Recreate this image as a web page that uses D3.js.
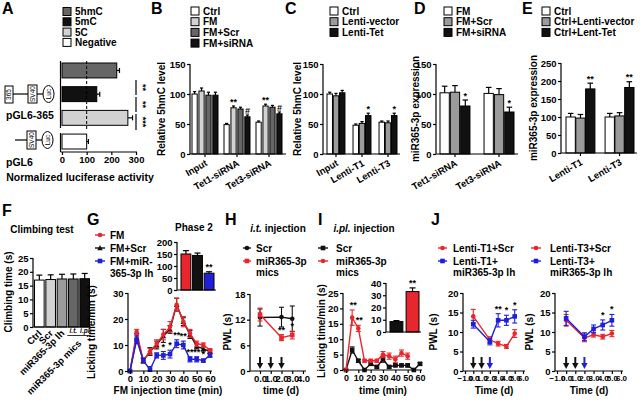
<!DOCTYPE html>
<html>
<head>
<meta charset="utf-8">
<script src="https://cdn.jsdelivr.net/npm/d3@7/dist/d3.min.js"></script>
<style>
html,body{margin:0;padding:0;background:#fff;}
svg{display:block;}
</style>
</head>
<body>
<svg id="chart" width="640" height="401"></svg>
<script>
// ================= DATA =================
// Panel A
const aConstructs = ["5hmC", "5mC", "5C", "Negative"];
const aValues = [222, 141, 267, 100];
const aErrors = [11, 12, 19, 7];
const aTicks = [0, 100, 200, 300];
const aSig = ["**", "**", "***"];
// Panel B
const bGroups = ["Input", "Tet1-siRNA", "Tet3-siRNA"];
const bSeries = ["Ctrl", "FM", "FM+Scr", "FM+siRNA"];
const bValues = [[100, 105, 98, 98], [49, 77, 75, 62], [53, 80, 78, 67]];
const bErrors = [[4, 5, 5, 5], [2, 3, 3, 3], [2, 3, 3, 3]];
const bMarks = [["", "", "", ""], ["", "**", "", "#"], ["", "**", "", "#"]];
const bTicks = [0, 50, 100, 150];
// Panel C
const cGroups = ["Input", "Lenti-T1", "Lenti-T3"];
const cSeries = ["Ctrl", "Lenti-vector", "Lenti-Tet"];
const cValues = [[100, 97, 102], [48, 51, 64], [53, 52, 64]];
const cErrors = [[3, 4, 4], [2, 3, 4], [2, 3, 4]];
const cMarks = [["", "", ""], ["", "", "*"], ["", "", "*"]];
const cTicks = [0, 50, 100, 150];
// Panel D
const dGroups = ["Tet1-siRNA", "Tet3-siRNA"];
const dSeries = ["FM", "FM+Scr", "FM+siRNA"];
const dValues = [[102, 103, 80], [101, 99, 70]];
const dErrors = [[11, 11, 10], [10, 10, 8]];
const dMarks = [["", "", "*"], ["", "", "*"]];
const dTicks = [0, 50, 100, 150];
// Panel E
const eGroups = ["Lenti-T1", "Lenti-T3"];
const eSeries = ["Ctrl", "Ctrl+Lenti-vector", "Ctrl+Lent-Tet"];
const eValues = [[100, 97, 178], [100, 103, 182]];
const eErrors = [[10, 10, 16], [10, 9, 16]];
const eMarks = [["", "", "**"], ["", "", "**"]];
const eTicks = [0, 50, 100, 150, 200, 250];
// Panel F
const fLabels = ["Ctrl", "Scr", "miR365-3p lh", "i.t.", "i.pl."];
const fValues = [17, 17.2, 17.4, 17.4, 17.5];
const fErrors = [1.8, 1.7, 1.7, 1.8, 1.9];
const fTicks = [0, 5, 10, 15, 20, 25];
// Panel G
const gTimes = [0, 5, 10, 15, 20, 25, 30, 35, 40, 45, 50, 55, 60];
const gFM = [0, 15, 4, 7.5, 10.5, 14, 17, 25.5, 19, 14.5, 10.5, 10, 8];
const gFMErr = [0, 1, 1, 1.2, 1.5, 2, 2, 2.5, 2, 1.5, 1, 0.8, 0.6];
const gScr = [0, 13, 4, 7.5, 10, 13.5, 16, 25.5, 19, 14, 9.5, 8.5, 7.5];
const gScrErr = [0, 1.5, 1, 1.5, 1.5, 2.5, 1.5, 2.5, 1.5, 1.5, 1, 0.8, 0.6];
const gLh = [0, 12, 4, 0.5, 6, 6, 6.5, 10.5, 10, 4.5, 4.5, 4, 6];
const gLhErr = [0, 1.5, 0.8, 1.2, 1, 1.5, 1.5, 1.5, 1.5, 1, 1, 0.5, 0.7];
const gStars = ["", "", "", "", "", "*", "*", "**", "**", "**", "**", "*", ""];
const gYTicks = [0, 10, 20, 30];
const gXTicks = [0, 10, 20, 30, 40, 50, 60];
const gPhaseGroups = ["FM", "FM+Scr", "FM+miR-365-3p lh"];
const gPhase = [150, 144, 70];
const gPhaseErr = [14, 10, 6];
const gPhaseMarks = ["", "", "**"];
const gPhaseTicks = [0, 50, 100, 150, 200];
// Panel H
const hDays = [0, 2, 3];
const hScr = [12.5, 12.6, 12.2];
const hScrErr = [2, 2.3, 3];
const hMics = [13.2, 7.8, 8.4];
const hMicsErr = [1.5, 0.7, 0.9];
const hStars = ["", "**", "*"];
const hArrowDays = [0, 1, 2];
const hYTicks = [0, 6, 12, 18];
const hXTicks = [0, 1, 2, 3, 4];
// Panel I
const iTimes = [0, 5, 10, 15, 20, 25, 30, 35, 40, 45, 50, 55, 60];
const iScr = [0, 6.5, 3, 0, 2, 1, 3.5, 1, 1.5, 1.5, 1.5, 0, 2];
const iScrErr = [0, 1, 0.5, 0, 0.5, 0.4, 1, 0.4, 0.4, 0.4, 0.5, 0, 0.4];
const iMicsTimes = [0, 5, 10, 15, 20, 25, 30, 35, 40, 45, 50];
const iMics = [0, 17, 13.5, 3, 3, 3, 5, 4.5, 3.5, 5.5, 4.5];
const iMicsErr = [0, 2.5, 1, 0.5, 0.5, 0.5, 1, 1, 1, 1, 1];
const iStars = ["", "**", "**", "", "", "", "", "", "", "", ""];
const iYTicks = [0, 5, 10, 15, 20, 25];
const iXTicks = [0, 10, 20, 30, 40, 50, 60];
const iPhaseGroups = ["Scr", "miR365-3p mics"];
const iPhase = [8.5, 33];
const iPhaseErr = [0.8, 3];
const iPhaseMarks = ["", "**"];
const iPhaseTicks = [0, 10, 20, 30, 40];
// Panel J
const jDays = [0, 2, 3, 4, 5];
const jT1Scr = [14, 8, 7, 6.3, 9.6];
const jT1ScrErr = [1.8, 0.8, 0.6, 0.5, 1];
const jT1Lh = [12, 7.5, 13, 13, 14];
const jT1LhErr = [1, 0.8, 1.7, 1.3, 1.7];
const jT1Stars = ["", "", "**", "*", "*"];
const jT3Scr = [13, 8.5, 9.3, 8.8, 9.6];
const jT3ScrErr = [1.5, 1, 0.6, 0.6, 0.8];
const jT3Lh = [13.5, 8.8, 10.8, 11.8, 13];
const jT3LhErr = [1.8, 1, 1, 1.3, 1.5];
const jT3Stars = ["", "", "", "*", "*"];
const jArrowDays = [0, 1, 2];
const jYTicks = [0, 5, 10, 15, 20];
const jXTicks = [-1, 0, 1, 2, 3, 4, 5, 6];

// ================= STYLE =================
const FONT = "'Liberation Sans', Arial, Helvetica, sans-serif";
const W = "#ffffff", LG = "#d2d2d2", MG = "#9b9b9b", DG = "#666666", BK = "#111111";
const RED = "#e8262d", BLUE = "#1f1fd8";

const svg = d3.select("#chart");
svg.append("rect").attr("width", 640).attr("height", 401).attr("fill", "#fff");

function txt(g, x, y, s, size, anchor, opts) {
  opts = opts || {};
  const t = g.append("text").attr("x", x).attr("y", y)
    .attr("font-size", size).attr("font-family", FONT).attr("font-weight", "bold")
    .attr("text-anchor", anchor || "start").attr("fill", opts.fill || "#000").text(s);
  if (opts.rotate != null) t.attr("transform", `rotate(${opts.rotate},${x},${y})`);
  if (opts.italic) t.attr("font-style", "italic");
  return t;
}
function line(g, x1, y1, x2, y2, color, w) {
  return g.append("line").attr("x1", x1).attr("y1", y1).attr("x2", x2).attr("y2", y2)
    .attr("stroke", color || "#000").attr("stroke-width", w || 1.2);
}
function styleAxis(sel, fs) {
  sel.attr("font-family", FONT).attr("font-size", fs || 9.5).attr("font-weight", "bold");
  sel.selectAll("line").attr("stroke", "#000").attr("stroke-width", 1.2);
  sel.selectAll("text").attr("fill", "#000");
  sel.select(".domain").remove();
}
function yAxis(g, scale, x, ticks, fs) {
  const a = g.append("g").attr("transform", `translate(${x},0)`)
    .call(d3.axisLeft(scale).tickValues(ticks).tickSize(3).tickPadding(1.5).tickSizeOuter(0));
  styleAxis(a, fs);
  const r = scale.range();
  line(g, x, r[0], x, r[1]);
  return a;
}
function xAxis(g, scale, y, ticks, x1, x2, fs) {
  const a = g.append("g").attr("transform", `translate(0,${y})`)
    .call(d3.axisBottom(scale).tickValues(ticks).tickSize(3).tickPadding(1.5).tickSizeOuter(0));
  styleAxis(a, fs);
  line(g, x1, y, x2, y);
  return a;
}
function squareLegend(g, x, ys, labels, colors) {
  labels.forEach((l, i) => {
    g.append("rect").attr("x", x).attr("y", ys[i] - 4).attr("width", 8).attr("height", 8)
      .attr("fill", colors[i]).attr("stroke", "#000").attr("stroke-width", 1);
    txt(g, x + 12, ys[i] + 3.6, l, 10);
  });
}
function marker(g, type, cx, cy, color, s) {
  s = s || 2.3;
  if (type === "circle") g.append("circle").attr("cx", cx).attr("cy", cy).attr("r", s).attr("fill", color);
  else if (type === "square") g.append("rect").attr("x", cx - s).attr("y", cy - s).attr("width", 2 * s).attr("height", 2 * s).attr("fill", color);
  else g.append("path").attr("d", `M${cx},${cy - s * 1.3}L${cx + s * 1.2},${cy + s}L${cx - s * 1.2},${cy + s}Z`).attr("fill", color);
}
function series(g, x, y, xs, vals, errs, color, type) {
  g.append("path").datum(xs.map((t, i) => [t, vals[i]]))
    .attr("d", d3.line().x(d => x(d[0])).y(d => y(d[1])))
    .attr("fill", "none").attr("stroke", color).attr("stroke-width", 1.4);
  xs.forEach((t, i) => {
    const cx = x(t), v = vals[i], e = errs[i];
    if (e > 0) {
      line(g, cx, y(Math.max(0, v - e)), cx, y(v + e), color, 1.1);
      line(g, cx - 2.5, y(v + e), cx + 2.5, y(v + e), color, 1.1);
      if (v - e > 0) line(g, cx - 2.5, y(v - e), cx + 2.5, y(v - e), color, 1.1);
    }
    marker(g, type, cx, y(v), color);
  });
}
function lineLegend(g, x1, x2, y, color, type, label, tx) {
  line(g, x1, y, x2, y, color, 1.4);
  marker(g, type, (x1 + x2) / 2, y, color);
  if (label) txt(g, tx, y + 3.6, label, 10);
}
function arrow(g, cx, y1, y2, color) {
  line(g, cx, y1, cx, y2 - 5, color, 2);
  g.append("path").attr("d", `M${cx - 3.2},${y2 - 6}L${cx + 3.2},${y2 - 6}L${cx},${y2}Z`).attr("fill", color);
}
function barPanel(p) {
  const g = svg.append("g");
  const y = d3.scaleLinear().domain([0, p.max]).range([p.zeroY, p.topY]);
  const x0 = d3.scaleBand().domain(p.groups).range(p.band).paddingInner(p.padG);
  const x1 = d3.scaleBand().domain(p.series).range([0, x0.bandwidth()]).paddingInner(p.padS);
  p.groups.forEach((grp, gi) => {
    p.series.forEach((s, si) => {
      const v = p.values[gi][si], e = p.errors[gi][si];
      const bx = x0(grp) + x1(s), bw = x1.bandwidth(), cx = bx + bw / 2, cw = Math.max(3, bw * 0.6);
      line(g, cx, y(v), cx, y(v + e));
      line(g, cx - cw / 2, y(v + e), cx + cw / 2, y(v + e));
      g.append("rect").attr("x", bx).attr("y", y(v)).attr("width", bw).attr("height", y(0) - y(v))
        .attr("fill", p.colors[si]).attr("stroke", "#000").attr("stroke-width", 1);
      const m = p.marks[gi][si];
      if (m) txt(g, cx, y(v + e) - 1.5, m, 9, "middle");
    });
    const gc = x0(grp) + x0.bandwidth() / 2;
    line(g, gc, p.zeroY, gc, p.zeroY + 3);
    txt(g, gc + 3, p.zeroY + 11, grp, 9.5, "end", { rotate: -30 });
  });
  yAxis(g, y, p.axisX, p.ticks, 9.5);
  line(g, p.axisX, p.zeroY, p.axisEnd, p.zeroY);
  txt(g, p.ylabelX, (p.zeroY + p.topY) / 2, p.ylabel, 10, "middle", { rotate: -90 });
  return g;
}

// ================= PANEL A =================
(function () {
  const g = svg.append("g");
  txt(g, 2, 14, "A", 16);
  squareLegend(g, 63, [11.5, 21.8, 32.1, 42.4], aConstructs, [DG, BK, LG, W]);
  const x = d3.scaleLinear().domain([0, 300]).range([62, 136]);
  const y = d3.scaleBand().domain(aConstructs).range([63, 149]).paddingInner(0.37);
  const cols = [DG, BK, LG, W];
  aConstructs.forEach((c, i) => {
    const v = aValues[i], e = aErrors[i], cy = y(c) + y.bandwidth() / 2;
    line(g, x(v), cy, x(v + e), cy);
    line(g, x(v + e), cy - 2.5, x(v + e), cy + 2.5);
    g.append("rect").attr("x", x(0)).attr("y", y(c)).attr("width", x(v) - x(0)).attr("height", y.bandwidth())
      .attr("fill", cols[i]).attr("stroke", "#000").attr("stroke-width", 1);
  });
  line(g, x(100), 61, x(100), 129, "#000", 1).attr("stroke-dasharray", "3,2");
  line(g, 60.5, 61, 60.5, 128);
  line(g, 60.5, 133, 60.5, 152);
  xAxis(g, x, 152, aTicks, 60.5, 137, 9.5);
  txt(g, 80, 181, "Normalized luciferase activity", 10.5, "middle");
  const br = [[80, 95], [97, 112], [114, 130]];
  br.forEach((b, i) => {
    line(g, 136, b[0], 136, b[1]);
    txt(g, 140, (b[0] + b[1]) / 2, aSig[i], 9, "middle", { rotate: 90 });
  });
  function box(x0, y0, w, h, label) {
    g.append("rect").attr("x", x0).attr("y", y0).attr("width", w).attr("height", h)
      .attr("fill", "#fff").attr("stroke", "#000").attr("stroke-width", 1);
    g.append("text").attr("x", x0 + w / 2 + 2.2).attr("y", y0 + h / 2).attr("font-size", 6.5)
      .attr("font-family", FONT).attr("text-anchor", "middle")
      .attr("transform", `rotate(-90,${x0 + w / 2 + 2.2},${y0 + h / 2})`).text(label);
  }
  function luc(cx, cy) {
    g.append("ellipse").attr("cx", cx).attr("cy", cy).attr("rx", 5.5).attr("ry", 8.5)
      .attr("fill", "#fff").attr("stroke", "#000").attr("stroke-width", 1);
    g.append("text").attr("x", cx + 2.2).attr("y", cy).attr("font-size", 6.5).attr("font-family", FONT)
      .attr("text-anchor", "middle").attr("transform", `rotate(-90,${cx + 2.2},${cy})`).text("Luc");
  }
  line(g, 13, 94, 28, 94, "#000", 1.2);
  line(g, 37, 94, 43, 94, "#000", 1.2);
  box(5, 86, 8, 17, "365");
  box(28, 85, 9, 18, "SV40");
  luc(48.5, 94);
  txt(g, 6, 119, "pGL6-365", 10.5);
  line(g, 15, 140, 27, 140, "#000", 1.2);
  line(g, 36, 140, 42, 140, "#000", 1.2);
  box(27, 131, 9, 18, "SV40");
  luc(47.5, 140);
  txt(g, 6, 166, "pGL6", 10.5);
})();

// ================= PANELS B–E =================
(function () {
  const g = svg.append("g");
  txt(g, 151, 14, "B", 16);
  squareLegend(g, 191, [11, 21.7, 32.4, 43.1], bSeries, [W, LG, DG, BK]);
  txt(g, 285, 14, "C", 16);
  squareLegend(g, 330, [11, 21.7, 32.4], cSeries, [W, MG, BK]);
  txt(g, 414, 14, "D", 16);
  squareLegend(g, 444, [11, 21.7, 32.4], dSeries, [W, MG, BK]);
  txt(g, 522, 14, "E", 16);
  squareLegend(g, 542, [11, 21.7, 32.4], eSeries, [W, MG, BK]);
})();
barPanel({ groups: bGroups, series: bSeries, values: bValues, errors: bErrors, marks: bMarks,
  colors: [W, LG, DG, BK], max: 150, ticks: bTicks, zeroY: 154, topY: 64, axisX: 190, axisEnd: 286,
  band: [192, 282], padG: 0.1875, padS: 0.25, ylabel: "Relative 5hmC level", ylabelX: 165 });
barPanel({ groups: cGroups, series: cSeries, values: cValues, errors: cErrors, marks: cMarks,
  colors: [W, MG, BK], max: 150, ticks: cTicks, zeroY: 154, topY: 64, axisX: 323, axisEnd: 400,
  band: [327, 397], padG: 0.31, padS: 0.12, ylabel: "Relative 5hmC level", ylabelX: 301 });
barPanel({ groups: dGroups, series: dSeries, values: dValues, errors: dErrors, marks: dMarks,
  colors: [W, MG, BK], max: 150, ticks: dTicks, zeroY: 154, topY: 64, axisX: 436, axisEnd: 518,
  band: [440, 514], padG: 0.32, padS: 0.1, ylabel: "miR365-3p expression", ylabelX: 419 });
barPanel({ groups: eGroups, series: eSeries, values: eValues, errors: eErrors, marks: eMarks,
  colors: [W, MG, BK], max: 250, ticks: eTicks, zeroY: 153, topY: 63, axisX: 561, axisEnd: 637,
  band: [566, 634], padG: 0.26, padS: 0.05, ylabel: "miR365-3p expression", ylabelX: 537 });

// ================= PANEL F =================
(function () {
  const g = svg.append("g");
  txt(g, 2, 216, "F", 16);
  txt(g, 42, 233, "Climbing test", 10, "middle");
  const y = d3.scaleLinear().domain([0, 25]).range([327, 258]);
  const x = d3.scaleBand().domain(fLabels).range([34.5, 89.5]).paddingInner(0.15);
  const cols = [W, LG, MG, DG, BK];
  fLabels.forEach((l, i) => {
    const v = fValues[i], e = fErrors[i], bx = x(l), bw = x.bandwidth(), cx = bx + bw / 2;
    line(g, cx, y(v), cx, y(v + e));
    line(g, cx - 3, y(v + e), cx + 3, y(v + e));
    g.append("rect").attr("x", bx).attr("y", y(v)).attr("width", bw).attr("height", y(0) - y(v))
      .attr("fill", cols[i]).attr("stroke", "#000").attr("stroke-width", 1);
  });
  yAxis(g, y, 33, fTicks, 9.5);
  line(g, 33, 327, 91, 327);
  txt(g, 12, 292, "Climbing time (s)", 10, "middle", { rotate: -90 });
  for (let i = 0; i < 3; i++) {
    const cx = x(fLabels[i]) + x.bandwidth() / 2;
    txt(g, cx + 3, 334, fLabels[i], 9.5, "end", { rotate: -45 });
  }
  const c4 = x(fLabels[3]) + x.bandwidth() / 2, c5 = x(fLabels[4]) + x.bandwidth() / 2;
  txt(g, c4, 333, fLabels[3], 6.5, "middle", { italic: true });
  txt(g, c5 + 1, 333, fLabels[4], 6.5, "middle", { italic: true });
  line(g, c4 - 6, 335.5, c5 + 6, 335.5, "#000", 0.8);
  txt(g, 82, 344, "miR365-3p mics", 9.5, "end", { rotate: -45 });
})();

// ================= PANEL G =================
(function () {
  const g = svg.append("g");
  txt(g, 87, 225, "G", 16);
  lineLegend(g, 95, 105, 235, RED, "circle", "FM", 110);
  lineLegend(g, 95, 105, 248, BK, "triangle", "FM+Scr", 110);
  lineLegend(g, 95, 105, 261, BLUE, "square", "FM+miR-", 110);
  txt(g, 110, 277, "365-3p lh", 10);
  txt(g, 194, 231, "Phase 2", 10, "middle");
  const yi = d3.scaleLinear().domain([0, 200]).range([290, 242]);
  const xi = d3.scaleBand().domain(gPhaseGroups).range([181, 214]).paddingInner(0.15);
  const icol = [RED, BK, BLUE];
  gPhaseGroups.forEach((l, i) => {
    const v = gPhase[i], e = gPhaseErr[i], bx = xi(l), bw = xi.bandwidth(), cx = bx + bw / 2;
    line(g, cx, yi(v), cx, yi(v + e));
    line(g, cx - 3, yi(v + e), cx + 3, yi(v + e));
    g.append("rect").attr("x", bx).attr("y", yi(v)).attr("width", bw).attr("height", yi(0) - yi(v))
      .attr("fill", icol[i]).attr("stroke", "#000").attr("stroke-width", 1);
    if (gPhaseMarks[i]) txt(g, cx, yi(v + e) - 1.5, gPhaseMarks[i], 9, "middle");
  });
  yAxis(g, yi, 177, gPhaseTicks, 9.5);
  line(g, 177, 290, 216, 290);
  const y = d3.scaleLinear().domain([0, 30]).range([371, 293]);
  const x = d3.scaleLinear().domain([0, 60]).range([130, 210]);
  series(g, x, y, gTimes, gScr, gScrErr, BK, "triangle");
  series(g, x, y, gTimes, gFM, gFMErr, RED, "circle");
  series(g, x, y, gTimes, gLh, gLhErr, BLUE, "square");
  gTimes.forEach((t, i) => {
    if (gStars[i]) txt(g, x(t), y(gLh[i] + gLhErr[i]) - 2, gStars[i], 9, "middle");
  });
  yAxis(g, y, 128, gYTicks, 9.5);
  xAxis(g, x, 371, gXTicks, 128, 212, 9.5);
  txt(g, 95, 332, "Licking time/min (s)", 10, "middle", { rotate: -90 });
  txt(g, 168, 394, "FM injection time (min)", 10, "middle");
})();

// ================= PANEL H =================
(function () {
  const g = svg.append("g");
  txt(g, 225, 225, "H", 16);
  const t = txt(g, 278, 232, "", 10, "middle");
  t.append("tspan").attr("font-style", "italic").text("i.t.");
  t.append("tspan").text(" injection");
  lineLegend(g, 243, 251, 248, BK, "circle", "Scr", 256);
  lineLegend(g, 243, 251, 261, RED, "square", "miR365-3p", 256);
  txt(g, 256, 276, "mics", 10);
  const y = d3.scaleLinear().domain([0, 18]).range([371, 294]);
  const x = d3.scaleLinear().domain([0, 4]).range([260, 303]);
  series(g, x, y, hDays, hScr, hScrErr, BK, "circle");
  series(g, x, y, hDays, hMics, hMicsErr, RED, "square");
  hDays.forEach((d, i) => {
    if (hStars[i]) txt(g, x(d), y(hMics[i] + hMicsErr[i]) - 2, hStars[i], 9, "middle");
  });
  hArrowDays.forEach(d => arrow(g, x(d), 357, 369, BK));
  yAxis(g, y, 250, hYTicks, 9.5);
  xAxis(g, x, 371, hXTicks, 250, 306, 9.5);
  txt(g, 231, 332, "PWL (s)", 10, "middle", { rotate: -90 });
  txt(g, 281, 394, "time (d)", 10, "middle");
})();

// ================= PANEL I =================
(function () {
  const g = svg.append("g");
  txt(g, 318, 225, "I", 16);
  const t = txt(g, 364, 232, "", 10, "middle");
  t.append("tspan").attr("font-style", "italic").text("i.pl.");
  t.append("tspan").text(" injection");
  lineLegend(g, 318, 328, 248, BK, "square", "Scr", 336);
  lineLegend(g, 318, 328, 261, RED, "circle", "miR365-3p", 336);
  txt(g, 336, 276, "mics", 10);
  const yi = d3.scaleLinear().domain([0, 40]).range([332, 283]);
  const xi = d3.scaleBand().domain(iPhaseGroups).range([390, 419]).paddingInner(0.2);
  const icol = [BK, RED];
  iPhaseGroups.forEach((l, i) => {
    const v = iPhase[i], e = iPhaseErr[i], bx = xi(l), bw = xi.bandwidth(), cx = bx + bw / 2;
    line(g, cx, yi(v), cx, yi(v + e));
    line(g, cx - 3, yi(v + e), cx + 3, yi(v + e));
    g.append("rect").attr("x", bx).attr("y", yi(v)).attr("width", bw).attr("height", yi(0) - yi(v))
      .attr("fill", icol[i]).attr("stroke", "#000").attr("stroke-width", 1);
    if (iPhaseMarks[i]) txt(g, cx, yi(v + e) - 1.5, iPhaseMarks[i], 9, "middle");
  });
  yAxis(g, yi, 386, iPhaseTicks, 9.5);
  line(g, 386, 332, 421, 332);
  const y = d3.scaleLinear().domain([0, 25]).range([370, 293]);
  const x = d3.scaleLinear().domain([0, 60]).range([346, 420]);
  series(g, x, y, iTimes, iScr, iScrErr, BK, "square");
  series(g, x, y, iMicsTimes, iMics, iMicsErr, RED, "circle");
  iMicsTimes.forEach((tt, i) => {
    if (iStars[i]) txt(g, x(tt) + 1, y(iMics[i] + iMicsErr[i]) - 2, iStars[i], 9, "middle");
  });
  yAxis(g, y, 343, iYTicks, 9.5);
  xAxis(g, x, 370, iXTicks, 343, 422, 9);
  txt(g, 325, 331, "Licking time/min (s)", 10, "middle", { rotate: -90 });
  txt(g, 383, 394, "time (min)", 10, "middle");
})();

// ================= PANEL J =================
(function () {
  const g = svg.append("g");
  txt(g, 431, 225, "J", 16);
  lineLegend(g, 438, 447, 248, RED, "circle", "Lenti-T1+Scr", 453);
  lineLegend(g, 438, 447, 261, BLUE, "square", "Lenti-T1+", 453);
  txt(g, 453, 276, "miR365-3p lh", 10);
  lineLegend(g, 531, 541, 248, RED, "circle", "Lenti-T3+Scr", 550);
  lineLegend(g, 531, 541, 261, BLUE, "square", "Lenti-T3+", 550);
  txt(g, 550, 276, "miR365-3p lh", 10);
  function sub(axisX, xr, scr, scrErr, lh, lhErr, stars, ylabX) {
    const y = d3.scaleLinear().domain([0, 20]).range([371, 293]);
    const x = d3.scaleLinear().domain([-1, 6]).range(xr);
    series(g, x, y, jDays, scr, scrErr, RED, "circle");
    series(g, x, y, jDays, lh, lhErr, BLUE, "square");
    jDays.forEach((d, i) => {
      if (stars[i]) txt(g, x(d), y(lh[i] + lhErr[i]) - 2, stars[i], 9, "middle");
    });
    jArrowDays.forEach((d, i) => arrow(g, x(d), 357, 369, i === 2 ? BLUE : BK));
    yAxis(g, y, axisX, jYTicks, 9.5);
    xAxis(g, x, 371, jXTicks, axisX, xr[1] + 2, 8);
    txt(g, ylabX, 332, "PWL (s)", 10, "middle", { rotate: -90 });
    txt(g, (xr[0] + xr[1]) / 2, 394, "Time (d)", 10, "middle");
  }
  sub(463, [465, 523], jT1Scr, jT1ScrErr, jT1Lh, jT1LhErr, jT1Stars, 437);
  sub(555, [557, 621], jT3Scr, jT3ScrErr, jT3Lh, jT3LhErr, jT3Stars, 533);
})();
</script>
</body>
</html>
